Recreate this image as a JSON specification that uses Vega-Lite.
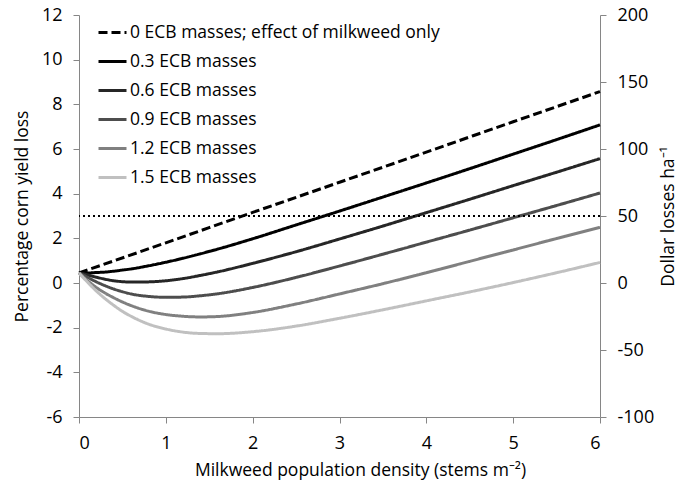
{
  "$schema": "https://vega.github.io/schema/vega-lite/v6.json",
  "width": 521,
  "height": 402,
  "autosize": {"type": "none"},
  "padding": {"left": 79, "top": 15, "right": 81, "bottom": 70},
  "background": "white",
  "config": {
    "view": {"stroke": null},
    "font": "Open Sans",
    "axis": {
      "grid": false,
      "domainColor": "#868686",
      "tickColor": "#868686",
      "tickSize": 6,
      "labelPadding": 11,
      "labelFont": "Open Sans",
      "labelFontSize": 18,
      "labelColor": "#000000",
      "labelExpr": "'' + datum.value",
      "titleFont": "Open Sans",
      "titleFontSize": 17.5,
      "titleFontWeight": "normal",
      "titleColor": "#000000"
    },
    "legend": {
      "orient": "none",
      "legendX": 18,
      "legendY": 2,
      "symbolType": "stroke",
      "symbolSize": 784,
      "symbolStrokeWidth": 3,
      "labelFont": "Open Sans",
      "labelFontSize": 17.5,
      "labelColor": "#000000",
      "labelOffset": 2,
      "rowPadding": 5,
      "labelLimit": 500
    }
  },
  "datasets": {
    "curves": [
      {"s": "0 ECB masses; effect of milkweed only", "m": 0, "loss": 0.45},
      {"s": "0 ECB masses; effect of milkweed only", "m": 1, "loss": 1.80},
      {"s": "0 ECB masses; effect of milkweed only", "m": 2, "loss": 3.16},
      {"s": "0 ECB masses; effect of milkweed only", "m": 3, "loss": 4.51},
      {"s": "0 ECB masses; effect of milkweed only", "m": 4, "loss": 5.86},
      {"s": "0 ECB masses; effect of milkweed only", "m": 5, "loss": 7.22},
      {"s": "0 ECB masses; effect of milkweed only", "m": 6, "loss": 8.57},

      {"s": "0.3 ECB masses", "m": 0, "loss": 0.45},
      {"s": "0.3 ECB masses", "m": 0.1, "loss": 0.45},
      {"s": "0.3 ECB masses", "m": 0.2, "loss": 0.47},
      {"s": "0.3 ECB masses", "m": 0.3, "loss": 0.49},
      {"s": "0.3 ECB masses", "m": 0.4, "loss": 0.53},
      {"s": "0.3 ECB masses", "m": 0.5, "loss": 0.58},
      {"s": "0.3 ECB masses", "m": 0.6, "loss": 0.63},
      {"s": "0.3 ECB masses", "m": 0.8, "loss": 0.77},
      {"s": "0.3 ECB masses", "m": 1.0, "loss": 0.93},
      {"s": "0.3 ECB masses", "m": 1.2, "loss": 1.11},
      {"s": "0.3 ECB masses", "m": 1.4, "loss": 1.31},
      {"s": "0.3 ECB masses", "m": 1.6, "loss": 1.52},
      {"s": "0.3 ECB masses", "m": 2.0, "loss": 1.98},
      {"s": "0.3 ECB masses", "m": 2.5, "loss": 2.60},
      {"s": "0.3 ECB masses", "m": 3.0, "loss": 3.22},
      {"s": "0.3 ECB masses", "m": 3.5, "loss": 3.85},
      {"s": "0.3 ECB masses", "m": 4.0, "loss": 4.48},
      {"s": "0.3 ECB masses", "m": 4.5, "loss": 5.12},
      {"s": "0.3 ECB masses", "m": 5.0, "loss": 5.77},
      {"s": "0.3 ECB masses", "m": 5.5, "loss": 6.42},
      {"s": "0.3 ECB masses", "m": 6.0, "loss": 7.08},

      {"s": "0.6 ECB masses", "m": 0, "loss": 0.45},
      {"s": "0.6 ECB masses", "m": 0.1, "loss": 0.36},
      {"s": "0.6 ECB masses", "m": 0.2, "loss": 0.26},
      {"s": "0.6 ECB masses", "m": 0.3, "loss": 0.17},
      {"s": "0.6 ECB masses", "m": 0.4, "loss": 0.10},
      {"s": "0.6 ECB masses", "m": 0.5, "loss": 0.06},
      {"s": "0.6 ECB masses", "m": 0.6, "loss": 0.04},
      {"s": "0.6 ECB masses", "m": 0.8, "loss": 0.05},
      {"s": "0.6 ECB masses", "m": 1.0, "loss": 0.10},
      {"s": "0.6 ECB masses", "m": 1.2, "loss": 0.20},
      {"s": "0.6 ECB masses", "m": 1.4, "loss": 0.34},
      {"s": "0.6 ECB masses", "m": 1.6, "loss": 0.50},
      {"s": "0.6 ECB masses", "m": 2.0, "loss": 0.88},
      {"s": "0.6 ECB masses", "m": 2.5, "loss": 1.40},
      {"s": "0.6 ECB masses", "m": 3.0, "loss": 1.97},
      {"s": "0.6 ECB masses", "m": 3.5, "loss": 2.55},
      {"s": "0.6 ECB masses", "m": 4.0, "loss": 3.15},
      {"s": "0.6 ECB masses", "m": 4.5, "loss": 3.75},
      {"s": "0.6 ECB masses", "m": 5.0, "loss": 4.36},
      {"s": "0.6 ECB masses", "m": 5.5, "loss": 4.96},
      {"s": "0.6 ECB masses", "m": 6.0, "loss": 5.57},

      {"s": "0.9 ECB masses", "m": 0, "loss": 0.45},
      {"s": "0.9 ECB masses", "m": 0.1, "loss": 0.25},
      {"s": "0.9 ECB masses", "m": 0.2, "loss": 0.05},
      {"s": "0.9 ECB masses", "m": 0.3, "loss": -0.12},
      {"s": "0.9 ECB masses", "m": 0.4, "loss": -0.27},
      {"s": "0.9 ECB masses", "m": 0.5, "loss": -0.39},
      {"s": "0.9 ECB masses", "m": 0.6, "loss": -0.49},
      {"s": "0.9 ECB masses", "m": 0.8, "loss": -0.60},
      {"s": "0.9 ECB masses", "m": 1.0, "loss": -0.64},
      {"s": "0.9 ECB masses", "m": 1.2, "loss": -0.63},
      {"s": "0.9 ECB masses", "m": 1.4, "loss": -0.57},
      {"s": "0.9 ECB masses", "m": 1.6, "loss": -0.48},
      {"s": "0.9 ECB masses", "m": 2.0, "loss": -0.20},
      {"s": "0.9 ECB masses", "m": 2.5, "loss": 0.25},
      {"s": "0.9 ECB masses", "m": 3.0, "loss": 0.76},
      {"s": "0.9 ECB masses", "m": 3.5, "loss": 1.29},
      {"s": "0.9 ECB masses", "m": 4.0, "loss": 1.83},
      {"s": "0.9 ECB masses", "m": 4.5, "loss": 2.37},
      {"s": "0.9 ECB masses", "m": 5.0, "loss": 2.92},
      {"s": "0.9 ECB masses", "m": 5.5, "loss": 3.47},
      {"s": "0.9 ECB masses", "m": 6.0, "loss": 4.03},

      {"s": "1.2 ECB masses", "m": 0, "loss": 0.45},
      {"s": "1.2 ECB masses", "m": 0.1, "loss": 0.10},
      {"s": "1.2 ECB masses", "m": 0.2, "loss": -0.20},
      {"s": "1.2 ECB masses", "m": 0.3, "loss": -0.45},
      {"s": "1.2 ECB masses", "m": 0.4, "loss": -0.66},
      {"s": "1.2 ECB masses", "m": 0.5, "loss": -0.85},
      {"s": "1.2 ECB masses", "m": 0.6, "loss": -1.01},
      {"s": "1.2 ECB masses", "m": 0.8, "loss": -1.26},
      {"s": "1.2 ECB masses", "m": 1.0, "loss": -1.41},
      {"s": "1.2 ECB masses", "m": 1.2, "loss": -1.49},
      {"s": "1.2 ECB masses", "m": 1.4, "loss": -1.52},
      {"s": "1.2 ECB masses", "m": 1.6, "loss": -1.50},
      {"s": "1.2 ECB masses", "m": 2.0, "loss": -1.32},
      {"s": "1.2 ECB masses", "m": 2.5, "loss": -0.94},
      {"s": "1.2 ECB masses", "m": 3.0, "loss": -0.49},
      {"s": "1.2 ECB masses", "m": 3.5, "loss": -0.03},
      {"s": "1.2 ECB masses", "m": 4.0, "loss": 0.46},
      {"s": "1.2 ECB masses", "m": 4.5, "loss": 0.97},
      {"s": "1.2 ECB masses", "m": 5.0, "loss": 1.48},
      {"s": "1.2 ECB masses", "m": 5.5, "loss": 1.99},
      {"s": "1.2 ECB masses", "m": 6.0, "loss": 2.49},

      {"s": "1.5 ECB masses", "m": 0, "loss": 0.45},
      {"s": "1.5 ECB masses", "m": 0.1, "loss": 0.03},
      {"s": "1.5 ECB masses", "m": 0.2, "loss": -0.36},
      {"s": "1.5 ECB masses", "m": 0.3, "loss": -0.70},
      {"s": "1.5 ECB masses", "m": 0.4, "loss": -1.00},
      {"s": "1.5 ECB masses", "m": 0.5, "loss": -1.27},
      {"s": "1.5 ECB masses", "m": 0.6, "loss": -1.49},
      {"s": "1.5 ECB masses", "m": 0.8, "loss": -1.84},
      {"s": "1.5 ECB masses", "m": 1.0, "loss": -2.06},
      {"s": "1.5 ECB masses", "m": 1.2, "loss": -2.20},
      {"s": "1.5 ECB masses", "m": 1.4, "loss": -2.26},
      {"s": "1.5 ECB masses", "m": 1.6, "loss": -2.27},
      {"s": "1.5 ECB masses", "m": 2.0, "loss": -2.18},
      {"s": "1.5 ECB masses", "m": 2.5, "loss": -1.93},
      {"s": "1.5 ECB masses", "m": 3.0, "loss": -1.58},
      {"s": "1.5 ECB masses", "m": 3.5, "loss": -1.20},
      {"s": "1.5 ECB masses", "m": 4.0, "loss": -0.80},
      {"s": "1.5 ECB masses", "m": 4.5, "loss": -0.40},
      {"s": "1.5 ECB masses", "m": 5.0, "loss": 0.02},
      {"s": "1.5 ECB masses", "m": 5.5, "loss": 0.46},
      {"s": "1.5 ECB masses", "m": 6.0, "loss": 0.92}
    ],
    "threshold": [
      {"dollars": 50}
    ]
  },
  "layer": [
    {
      "data": {"name": "curves"},
      "mark": {"type": "line", "strokeWidth": 3, "interpolate": "monotone"},
      "encoding": {
        "x": {
          "field": "m",
          "type": "quantitative",
          "scale": {"domain": [0, 6], "nice": false},
          "axis": {
            "values": [0, 1, 2, 3, 4, 5, 6],
            "title": "Milkweed population density (stems m⁻²)",
            "titlePadding": 9,
            "titleX": 281
          }
        },
        "y": {
          "field": "loss",
          "type": "quantitative",
          "scale": {"domain": [-6, 12], "nice": false},
          "axis": {
            "orient": "left",
            "values": [-6, -4, -2, 0, 2, 4, 6, 8, 10, 12],
            "title": "Percentage corn yield loss",
            "titlePadding": 10
          }
        },
        "color": {
          "field": "s",
          "type": "nominal",
          "scale": {
            "domain": ["0 ECB masses; effect of milkweed only", "0.3 ECB masses", "0.6 ECB masses", "0.9 ECB masses", "1.2 ECB masses", "1.5 ECB masses"],
            "range": ["#000000", "#000000", "#262626", "#4d4d4d", "#808080", "#c0c0c0"]
          },
          "legend": {"title": null}
        },
        "strokeDash": {
          "field": "s",
          "type": "nominal",
          "scale": {
            "domain": ["0 ECB masses; effect of milkweed only", "0.3 ECB masses", "0.6 ECB masses", "0.9 ECB masses", "1.2 ECB masses", "1.5 ECB masses"],
            "range": [[9, 4], [1, 0], [1, 0], [1, 0], [1, 0], [1, 0]]
          },
          "legend": {"title": null}
        }
      }
    },
    {
      "data": {"name": "threshold"},
      "mark": {"type": "rule", "strokeDash": [2, 3], "strokeWidth": 2, "color": "#000000"},
      "encoding": {
        "y": {
          "field": "dollars",
          "type": "quantitative",
          "scale": {"domain": [-100, 200], "nice": false},
          "axis": {
            "orient": "right",
            "values": [-100, -50, 0, 50, 100, 150, 200],
            "title": "Dollar losses ha⁻¹",
            "titleAngle": 270,
            "titlePadding": 24
          }
        }
      }
    }
  ],
  "resolve": {"scale": {"y": "independent"}}
}
